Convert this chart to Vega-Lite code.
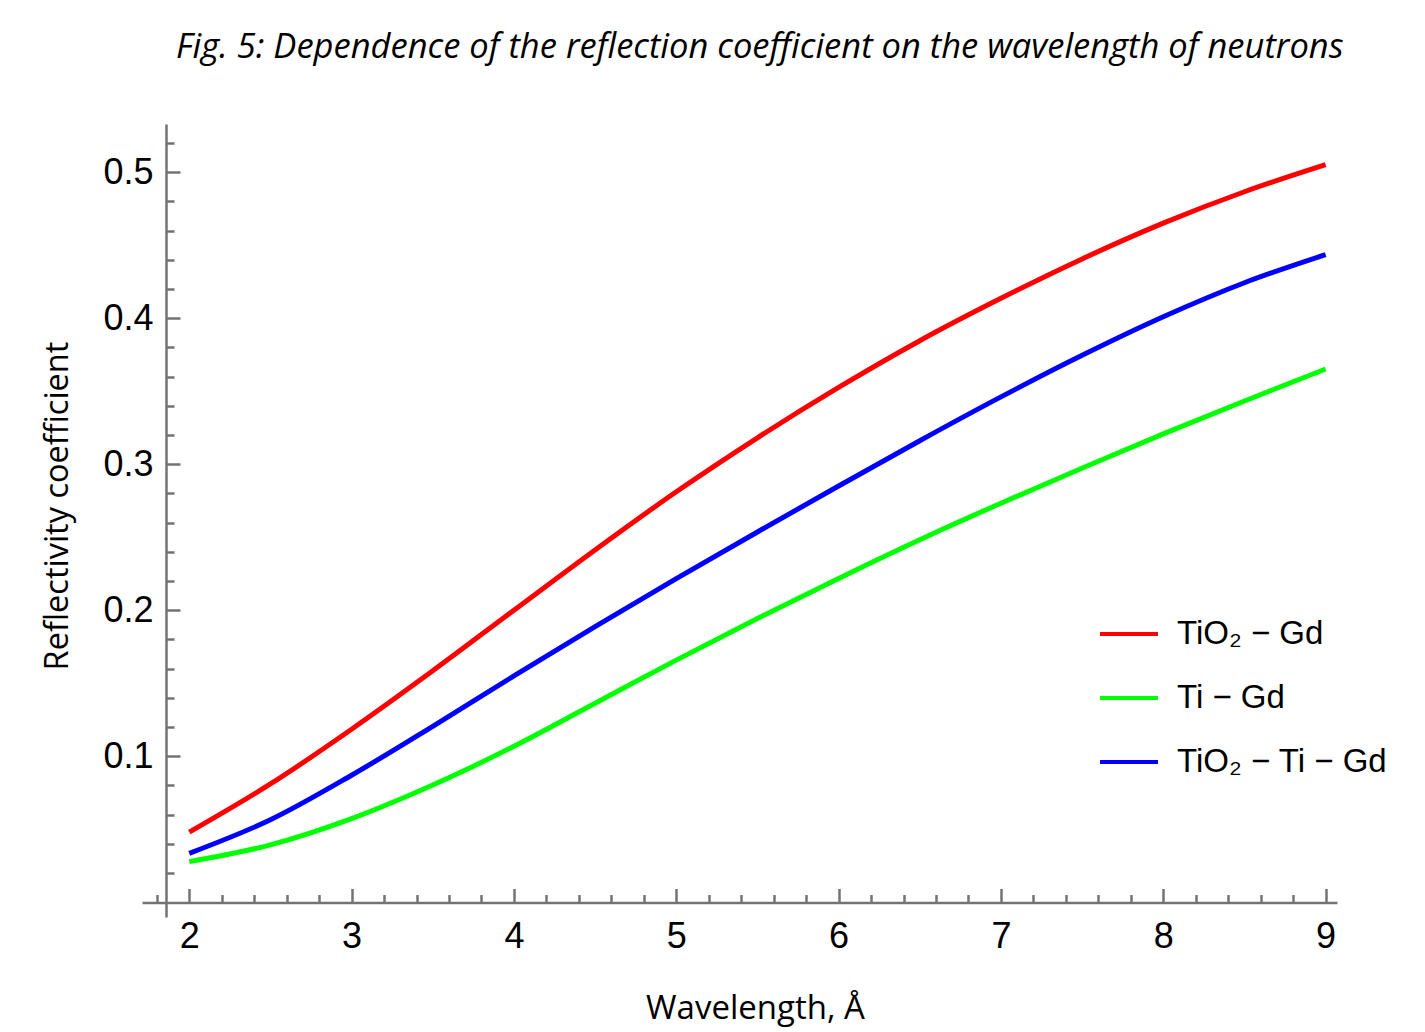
{
  "$schema": "https://vega.github.io/schema/vega-lite/v6.json",
  "width": 1195,
  "height": 793,
  "autosize": {"type": "none"},
  "padding": {"left": 142, "top": 124, "right": 88, "bottom": 115},
  "background": "white",
  "config": {"view": {"stroke": null}},
  "title": {
    "text": "Fig. 5: Dependence of the reflection coefficient on the wavelength of neutrons",
    "font": "Open Sans",
    "fontStyle": "italic",
    "fontWeight": "normal",
    "fontSize": 34.5,
    "color": "black",
    "anchor": "start",
    "frame": "group",
    "dx": 34,
    "baseline": "alphabetic",
    "offset": 32
  },
  "data": {
    "values": [
      {"s": "TiO₂ − Gd", "x": 2.0, "y": 0.048},
      {"s": "TiO₂ − Gd", "x": 2.5, "y": 0.081},
      {"s": "TiO₂ − Gd", "x": 3.0, "y": 0.1185},
      {"s": "TiO₂ − Gd", "x": 3.5, "y": 0.1585},
      {"s": "TiO₂ − Gd", "x": 4.0, "y": 0.2},
      {"s": "TiO₂ − Gd", "x": 4.5, "y": 0.2413},
      {"s": "TiO₂ − Gd", "x": 5.0, "y": 0.2811},
      {"s": "TiO₂ − Gd", "x": 5.5, "y": 0.3181},
      {"s": "TiO₂ − Gd", "x": 6.0, "y": 0.3526},
      {"s": "TiO₂ − Gd", "x": 6.5, "y": 0.3846},
      {"s": "TiO₂ − Gd", "x": 7.0, "y": 0.4136},
      {"s": "TiO₂ − Gd", "x": 7.5, "y": 0.4406},
      {"s": "TiO₂ − Gd", "x": 8.0, "y": 0.4651},
      {"s": "TiO₂ − Gd", "x": 8.5, "y": 0.4866},
      {"s": "TiO₂ − Gd", "x": 9.0, "y": 0.5051},
      {"s": "Ti − Gd", "x": 2.0, "y": 0.0278},
      {"s": "Ti − Gd", "x": 2.5, "y": 0.0393},
      {"s": "Ti − Gd", "x": 3.0, "y": 0.0573},
      {"s": "Ti − Gd", "x": 3.5, "y": 0.0803},
      {"s": "Ti − Gd", "x": 4.0, "y": 0.1068},
      {"s": "Ti − Gd", "x": 4.5, "y": 0.1363},
      {"s": "Ti − Gd", "x": 5.0, "y": 0.1658},
      {"s": "Ti − Gd", "x": 5.5, "y": 0.1943},
      {"s": "Ti − Gd", "x": 6.0, "y": 0.2218},
      {"s": "Ti − Gd", "x": 6.5, "y": 0.2483},
      {"s": "Ti − Gd", "x": 7.0, "y": 0.2733},
      {"s": "Ti − Gd", "x": 7.5, "y": 0.2973},
      {"s": "Ti − Gd", "x": 8.0, "y": 0.3208},
      {"s": "Ti − Gd", "x": 8.5, "y": 0.3433},
      {"s": "Ti − Gd", "x": 9.0, "y": 0.3652},
      {"s": "TiO₂ − Ti − Gd", "x": 2.0, "y": 0.0335},
      {"s": "TiO₂ − Ti − Gd", "x": 2.5, "y": 0.0565},
      {"s": "TiO₂ − Ti − Gd", "x": 3.0, "y": 0.087},
      {"s": "TiO₂ − Ti − Gd", "x": 3.5, "y": 0.1205},
      {"s": "TiO₂ − Ti − Gd", "x": 4.0, "y": 0.155},
      {"s": "TiO₂ − Ti − Gd", "x": 4.5, "y": 0.1888},
      {"s": "TiO₂ − Ti − Gd", "x": 5.0, "y": 0.2216},
      {"s": "TiO₂ − Ti − Gd", "x": 5.5, "y": 0.2536},
      {"s": "TiO₂ − Ti − Gd", "x": 6.0, "y": 0.2851},
      {"s": "TiO₂ − Ti − Gd", "x": 6.5, "y": 0.3161},
      {"s": "TiO₂ − Ti − Gd", "x": 7.0, "y": 0.3461},
      {"s": "TiO₂ − Ti − Gd", "x": 7.5, "y": 0.3746},
      {"s": "TiO₂ − Ti − Gd", "x": 8.0, "y": 0.401},
      {"s": "TiO₂ − Ti − Gd", "x": 8.5, "y": 0.4243},
      {"s": "TiO₂ − Ti − Gd", "x": 9.0, "y": 0.4435}
    ]
  },
  "layer": [
    {
      "mark": {"type": "line", "strokeWidth": 5, "interpolate": "monotone", "clip": true},
      "encoding": {
        "x": {
          "field": "x", "type": "quantitative",
          "scale": {"domain": [1.709, 9.07], "nice": false, "zero": false},
          "axis": {
            "orient": "bottom",
            "offset": -14.5,
            "values": [2, 3, 4, 5, 6, 7, 8, 9],
            "grid": false,
            "domainColor": "#737373", "domainWidth": 2.5,
            "tickColor": "#737373", "tickWidth": 2.5, "tickSize": -14,
            "labelFont": "Liberation Sans", "labelFontSize": 36, "labelColor": "black",
            "labelPadding": 31, "labelFlush": false,
            "title": "Wavelength, Å",
            "titleFont": "Open Sans", "titleFontSize": 33, "titleFontWeight": "normal", "titleColor": "black",
            "titleX": 613, "titleY": 116, "titleBaseline": "alphabetic", "titleAlign": "center"
          }
        },
        "y": {
          "field": "y", "type": "quantitative",
          "scale": {"domain": [-0.0101, 0.533], "nice": false, "zero": false},
          "axis": {
            "orient": "left",
            "offset": -24,
            "values": [0.1, 0.2, 0.3, 0.4, 0.5],
            "format": ".1f",
            "grid": false,
            "domainColor": "#737373", "domainWidth": 2.5,
            "tickColor": "#737373", "tickWidth": 2.5, "tickSize": -14,
            "labelFont": "Liberation Sans", "labelFontSize": 36, "labelColor": "black",
            "labelPadding": 27, "labelFlush": false,
            "title": "Reflectivity coefficient",
            "titleFont": "Open Sans", "titleFontSize": 32.5, "titleFontWeight": "normal", "titleColor": "black",
            "titleX": -99, "titleY": 381.5, "titleBaseline": "alphabetic", "titleAlign": "center", "titleAngle": 270
          }
        },
        "color": {
          "field": "s", "type": "nominal",
          "scale": {"domain": ["TiO₂ − Gd", "Ti − Gd", "TiO₂ − Ti − Gd"], "range": ["#ff0000", "#00ff00", "#0000ff"]},
          "legend": {
            "title": null,
            "orient": "none",
            "legendX": 956,
            "legendY": 479,
            "padding": 0,
            "symbolType": "stroke",
            "symbolSize": 3364,
            "symbolStrokeWidth": 4,
            "labelFont": "Liberation Sans",
            "labelFontSize": 33,
            "labelColor": "black",
            "labelLimit": 400,
            "labelOffset": 17,
            "rowPadding": 16
          }
        }
      }
    },
    {
      "mark": {"type": "line", "opacity": 0},
      "encoding": {
        "x": {
          "field": "x", "type": "quantitative",
          "axis": {
            "orient": "bottom",
            "offset": -14.5,
            "values": [1.8, 2.2, 2.4, 2.6, 2.8, 3.2, 3.4, 3.6, 3.8, 4.2, 4.4, 4.6, 4.8, 5.2, 5.4, 5.6, 5.8, 6.2, 6.4, 6.6, 6.8, 7.2, 7.4, 7.6, 7.8, 8.2, 8.4, 8.6, 8.8],
            "labels": false, "domain": false, "grid": false,
            "tickColor": "#737373", "tickWidth": 2.5, "tickSize": -8,
            "title": null
          }
        },
        "y": {
          "field": "y", "type": "quantitative",
          "axis": {
            "orient": "left",
            "offset": -24,
            "values": [0.02, 0.04, 0.06, 0.08, 0.12, 0.14, 0.16, 0.18, 0.22, 0.24, 0.26, 0.28, 0.32, 0.34, 0.36, 0.38, 0.42, 0.44, 0.46, 0.48, 0.52],
            "labels": false, "domain": false, "grid": false,
            "tickColor": "#737373", "tickWidth": 2.5, "tickSize": -8,
            "title": null
          }
        }
      }
    }
  ],
  "resolve": {"axis": {"x": "independent", "y": "independent"}}
}
